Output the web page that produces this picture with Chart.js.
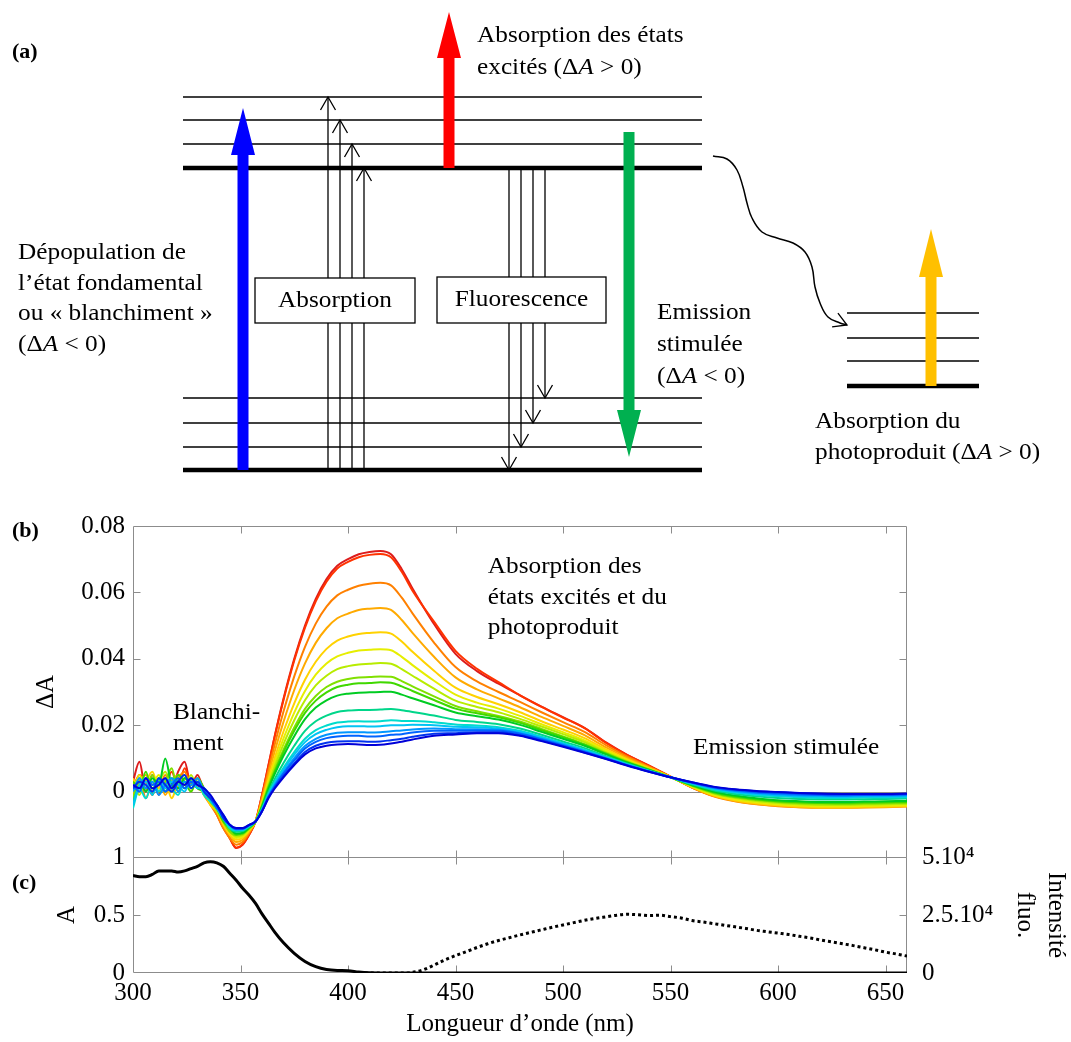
<!DOCTYPE html>
<html lang="fr">
<head>
<meta charset="utf-8">
<title>Absorption transitoire</title>
<script src="https://cdn.jsdelivr.net/npm/chart.js@4.4.1/dist/chart.umd.min.js"></script>
<style>
  html, body { margin:0; padding:0; background:#fff; }
  #page { position:relative; width:1071px; height:1042px; overflow:hidden; background:#fff; }
  #page canvas { position:absolute; left:0; }
  .panel { position:absolute; left:12px; font: bold 22px 'Liberation Serif', 'Times New Roman', serif; line-height:22px; color:#000; }
</style>
</head>
<body>
<div id="page">
  <canvas id="diagram" width="1071" height="490" style="top:0"></canvas>
  <canvas id="transient" width="1071" height="362" style="top:500px"></canvas>
  <canvas id="steady" width="1071" height="222" style="top:820px"></canvas>
  <div class="panel" style="top:40px">(a)</div>
  <div class="panel" style="top:519px">(b)</div>
  <div class="panel" style="top:871px">(c)</div>
</div>
<script>
// ===================== (a) energy diagram data (x: arbitrary units, E: energy units) =====================
const levelsGround  = [0, 23, 47, 72];
const levelsExcited = [302, 326, 350, 373];
const levelsProduct = [84, 109, 132, 157];
const spanMain    = [183, 702];
const spanProduct = [847, 979];

const absorptionArrowX   = [328, 340, 352, 364];
const absorptionArrowTop = [373, 350, 326, 302];
const fluorescenceArrowX   = [509, 521, 533, 545];
const fluorescenceArrowEnd = [0, 23, 47, 72];

const bigArrowX        = [243, 449, 629, 931];
const bigArrowFrom     = [0, 302, 338, 84];
const bigArrowTip      = [362, 458, 13, 241];
const bigArrowHeadBase = [315, 412, 60, 193];
const bigArrowColor    = ['#0000ff', '#ff0000', '#00b050', '#ffc000'];

const relaxPathX = [713, 727, 737, 743, 747, 752, 762, 777, 793, 805, 812, 815, 820, 828, 840, 847];
const relaxPathE = [314, 311, 300, 283, 267, 252, 238, 232, 227, 218, 203, 183, 167, 153, 147, 145];

// ===================== (b) transient spectra (ΔA) =====================
const wavelengthsB = [300,303,306,309,312,315,318,321,324,327,330,333,336,339,342,345,
  348,351,354,357,360,363,366,
  370,375,380,385,390,395,400,405,410,415,420,425,430,
  440,450,460,470,480,490,500,510,520,530,540,550,
  560,570,580,590,600,610,620,630,640,650,660];

const dA01 = [0.003,0.009,0.000,0.005,-0.001,0.004,0.001,0.006,0.009,0.002,0.005,0.000,-0.003,-0.006,-0.010,-0.014,
  -0.017,-0.016,-0.013,-0.009,-0.001,0.008,0.017,
  0.028,0.040,0.050,0.058,0.064,0.068,0.070,0.0715,0.0722,0.0725,0.0715,0.067,0.0612,
  0.0505,0.0415,0.0363,0.0325,0.029,0.0256,0.0224,0.0192,0.0148,0.011,0.0078,0.0045,
  0.0013,-0.0012,-0.0026,-0.0034,-0.0040,-0.0044,-0.0046,-0.0046,-0.0045,-0.0044,-0.0042];
const dA02 = [0.001,0.005,0.003,-0.001,0.004,0.002,0.006,0.001,0.007,0.003,0.004,0.001,-0.003,-0.007,-0.011,-0.014,
  -0.0169,-0.0159,-0.0130,-0.0090,-0.0011,0.0078,0.0168,
  0.0276,0.0395,0.0494,0.0573,0.0632,0.0672,0.0692,0.0706,0.0713,0.0716,0.0706,0.0662,0.0605,
  0.0512,0.0424,0.0370,0.0330,0.0290,0.0255,0.0223,0.0191,0.0147,0.0110,0.0078,0.0045,
  0.0012,-0.0013,-0.0027,-0.0035,-0.0041,-0.0044,-0.0045,-0.0045,-0.0044,-0.0043,-0.0041];
const dA03 = [0.002,0.004,-0.002,0.003,0.001,0.005,0.000,0.004,0.006,0.001,0.003,-0.001,-0.004,-0.007,-0.011,-0.014,
  -0.0160,-0.0152,-0.0125,-0.0090,-0.0018,0.0064,0.0144,
  0.0241,0.0347,0.0436,0.0506,0.0557,0.0591,0.0608,0.0620,0.0626,0.0629,0.0621,0.0584,0.0537,
  0.0449,0.0375,0.0332,0.0300,0.0270,0.0239,0.0209,0.0180,0.0140,0.0105,0.0075,0.0045,
  0.0012,-0.0014,-0.0029,-0.0038,-0.0044,-0.0047,-0.0048,-0.0048,-0.0047,-0.0046,-0.0044];
const dA04 = [-0.001,0.003,0.005,0.000,0.004,-0.001,0.003,0.005,0.002,0.004,0.001,0.000,-0.003,-0.006,-0.010,-0.013,
  -0.0152,-0.0145,-0.0121,-0.0090,-0.0025,0.0051,0.0123,
  0.0210,0.0306,0.0386,0.0448,0.0492,0.0522,0.0536,0.0547,0.0551,0.0553,0.0547,0.0517,0.0478,
  0.0406,0.0344,0.0308,0.0281,0.0254,0.0225,0.0198,0.0170,0.0133,0.0101,0.0073,0.0044,
  0.0013,-0.0013,-0.0028,-0.0037,-0.0043,-0.0047,-0.0049,-0.0049,-0.0048,-0.0047,-0.0045];
const dA05 = [0.004,0.000,0.003,0.006,0.001,0.003,-0.002,0.003,0.005,0.000,0.004,0.000,-0.004,-0.006,-0.010,-0.013,
  -0.0145,-0.0139,-0.0117,-0.0090,-0.0031,0.0038,0.0103,
  0.0181,0.0266,0.0337,0.0391,0.0430,0.0455,0.0467,0.0475,0.0478,0.0480,0.0476,0.0452,0.0421,
  0.0364,0.0313,0.0285,0.0263,0.0239,0.0212,0.0187,0.0161,0.0127,0.0097,0.0070,0.0044,
  0.0014,-0.0011,-0.0026,-0.0035,-0.0041,-0.0045,-0.0047,-0.0047,-0.0046,-0.0045,-0.0043];
const dA06 = [0.000,0.005,0.001,0.002,0.005,0.000,0.004,0.002,0.004,0.003,0.002,-0.001,-0.003,-0.006,-0.009,-0.012,
  -0.0140,-0.0135,-0.0115,-0.0090,-0.0035,0.0029,0.0089,
  0.0160,0.0238,0.0303,0.0352,0.0386,0.0407,0.0418,0.0425,0.0427,0.0429,0.0426,0.0406,0.0381,
  0.0334,0.0292,0.0268,0.0250,0.0228,0.0203,0.0179,0.0154,0.0123,0.0094,0.0069,0.0044,
  0.0015,-0.0009,-0.0023,-0.0032,-0.0038,-0.0042,-0.0044,-0.0044,-0.0043,-0.0042,-0.0041];
const dA07 = [0.002,-0.001,0.004,0.001,0.003,0.006,0.001,0.004,0.001,0.005,0.001,0.001,-0.003,-0.006,-0.009,-0.012,
  -0.0135,-0.0131,-0.0113,-0.0090,-0.0039,0.0022,0.0077,
  0.0143,0.0215,0.0275,0.0320,0.0349,0.0369,0.0378,0.0383,0.0385,0.0387,0.0385,0.0369,0.0349,
  0.0310,0.0274,0.0255,0.0239,0.0219,0.0196,0.0173,0.0149,0.0119,0.0092,0.0068,0.0043,
  0.0017,-0.0006,-0.0019,-0.0028,-0.0034,-0.0038,-0.0040,-0.0040,-0.0039,-0.0038,-0.0037];
const dA08 = [-0.002,0.004,0.001,0.005,0.000,0.003,0.007,0.000,0.004,0.002,0.003,0.000,-0.002,-0.005,-0.009,-0.012,
  -0.0131,-0.0128,-0.0111,-0.0090,-0.0042,0.0015,0.0066,
  0.0126,0.0193,0.0249,0.0288,0.0315,0.0331,0.0339,0.0344,0.0345,0.0347,0.0346,0.0333,0.0317,
  0.0287,0.0258,0.0242,0.0228,0.0211,0.0189,0.0166,0.0143,0.0116,0.0089,0.0066,0.0043,
  0.0018,-0.0004,-0.0017,-0.0025,-0.0031,-0.0035,-0.0036,-0.0037,-0.0036,-0.0035,-0.0034];
const dA09 = [0.003,0.001,0.006,-0.001,0.004,0.002,0.001,0.005,0.003,0.000,0.004,0.001,-0.003,-0.005,-0.009,-0.011,
  -0.0129,-0.0126,-0.0110,-0.0090,-0.0044,0.0012,0.0061,
  0.0119,0.0183,0.0237,0.0274,0.0299,0.0315,0.0322,0.0326,0.0327,0.0329,0.0328,0.0317,0.0303,
  0.0276,0.0250,0.0236,0.0224,0.0207,0.0185,0.0164,0.0141,0.0114,0.0088,0.0066,0.0043,
  0.0019,-0.0002,-0.0015,-0.0023,-0.0029,-0.0032,-0.0034,-0.0034,-0.0033,-0.0032,-0.0031];
const dA10 = [0.001,0.003,0.000,0.004,0.002,0.010,0.002,0.001,0.004,0.003,0.001,0.000,-0.002,-0.005,-0.008,-0.011,
  -0.0126,-0.0124,-0.0108,-0.0090,-0.0046,0.0007,0.0054,
  0.0108,0.0167,0.0218,0.0253,0.0275,0.0289,0.0295,0.0298,0.0299,0.0300,0.0301,0.0292,0.0281,
  0.0260,0.0238,0.0227,0.0217,0.0201,0.0180,0.0159,0.0138,0.0112,0.0087,0.0065,0.0043,
  0.0020,0.0000,-0.0012,-0.0020,-0.0026,-0.0029,-0.0031,-0.0031,-0.0030,-0.0029,-0.0028];
const dA11 = [-0.003,0.002,0.004,0.001,0.003,0.000,0.004,0.003,0.001,0.004,0.002,0.001,-0.002,-0.005,-0.008,-0.011,
  -0.0121,-0.0119,-0.0106,-0.0090,-0.0051,-0.0002,0.0039,
  0.0086,0.0138,0.0183,0.0212,0.0229,0.0240,0.0244,0.0246,0.0246,0.0247,0.0249,0.0245,0.0240,
  0.0229,0.0216,0.0210,0.0203,0.0190,0.0171,0.0151,0.0131,0.0107,0.0084,0.0063,0.0043,
  0.0022,0.0004,-0.0007,-0.0014,-0.0019,-0.0022,-0.0024,-0.0024,-0.0023,-0.0022,-0.0021];
const dA12 = [-0.005,0.001,-0.002,0.003,0.000,0.004,0.001,-0.001,0.003,0.001,0.003,-0.001,-0.003,-0.005,-0.008,-0.011,
  -0.0117,-0.0116,-0.0104,-0.0090,-0.0054,-0.0008,0.0030,
  0.0072,0.0119,0.0159,0.0185,0.0199,0.0208,0.0211,0.0212,0.0211,0.0212,0.0215,0.0213,0.0213,
  0.0209,0.0202,0.0199,0.0194,0.0183,0.0165,0.0146,0.0126,0.0104,0.0082,0.0062,0.0043,
  0.0024,0.0007,-0.0003,-0.0010,-0.0014,-0.0017,-0.0019,-0.0019,-0.0018,-0.0018,-0.0017];
const dA13 = [-0.004,0.002,0.003,-0.001,0.004,0.001,0.003,0.002,0.000,0.004,0.001,0.001,-0.002,-0.005,-0.008,-0.010,
  -0.0116,-0.0115,-0.0103,-0.0090,-0.0055,-0.0010,0.0025,
  0.0066,0.0111,0.0149,0.0173,0.0186,0.0194,0.0197,0.0197,0.0196,0.0197,0.0200,0.0200,0.0201,
  0.0200,0.0195,0.0194,0.0190,0.0180,0.0162,0.0144,0.0124,0.0103,0.0081,0.0062,0.0043,
  0.0025,0.0009,-0.0001,-0.0007,-0.0011,-0.0014,-0.0015,-0.0016,-0.0015,-0.0015,-0.0014];
const dA14 = [0.000,0.004,0.001,0.003,-0.001,0.002,0.004,0.000,0.003,0.002,0.004,0.000,-0.002,-0.004,-0.008,-0.010,
  -0.0114,-0.0113,-0.0102,-0.0090,-0.0057,-0.0014,0.0020,
  0.0058,0.0101,0.0137,0.0159,0.0171,0.0177,0.0179,0.0179,0.0178,0.0179,0.0182,0.0184,0.0187,
  0.0190,0.0188,0.0188,0.0186,0.0176,0.0159,0.0141,0.0122,0.0101,0.0080,0.0061,0.0043,
  0.0026,0.0011,0.0002,-0.0004,-0.0008,-0.0011,-0.0012,-0.0013,-0.0012,-0.0012,-0.0011];
const dA15 = [0.002,0.000,0.004,0.002,0.003,0.000,0.002,0.004,0.001,0.003,0.002,0.001,-0.002,-0.005,-0.007,-0.010,
  -0.0113,-0.0112,-0.0101,-0.0090,-0.0058,-0.0016,0.0017,
  0.0054,0.0094,0.0130,0.0150,0.0161,0.0166,0.0168,0.0168,0.0166,0.0167,0.0171,0.0173,0.0178,
  0.0183,0.0183,0.0184,0.0183,0.0174,0.0157,0.0139,0.0120,0.0100,0.0079,0.0061,0.0043,
  0.0027,0.0013,0.0004,-0.0002,-0.0005,-0.0008,-0.0010,-0.0011,-0.0010,-0.0010,-0.0009];
const dA16 = [0.001,0.003,0.002,0.000,0.004,0.002,0.000,0.003,0.005,0.001,0.003,0.000,-0.002,-0.004,-0.008,-0.010,
  -0.0111,-0.0111,-0.0101,-0.0090,-0.0059,-0.0018,0.0013,
  0.0047,0.0085,0.0119,0.0138,0.0147,0.0151,0.0152,0.0152,0.0150,0.0151,0.0155,0.0159,0.0165,
  0.0174,0.0176,0.0179,0.0179,0.0170,0.0154,0.0137,0.0118,0.0099,0.0079,0.0060,0.0043,
  0.0028,0.0014,0.0006,0.0001,-0.0002,-0.0005,-0.0007,-0.0008,-0.0008,-0.0008,-0.0007];
const dA17 = [0.002,0.001,0.004,0.001,0.002,0.004,0.001,0.003,0.002,0.004,0.002,0.001,-0.001,-0.004,-0.007,-0.010,
  -0.0110,-0.0110,-0.0100,-0.0090,-0.0060,-0.0020,0.0010,
  0.0043,0.0080,0.0112,0.0130,0.0138,0.0142,0.0143,0.0142,0.0140,0.0141,0.0145,0.0150,0.0157,
  0.0168,0.0172,0.0176,0.0176,0.0168,0.0152,0.0135,0.0117,0.0098,0.0078,0.0060,0.0043,
  0.0028,0.0015,0.0007,0.0002,-0.0001,-0.0004,-0.0006,-0.0007,-0.0007,-0.0007,-0.0006];

const spectraColors = ['#dd1c1c','#ff3300','#ff8000','#ffaa00','#ffd200','#e6ee00','#b8ec00','#80e000','#40d800',
  '#00cc22','#00d68a','#00dccc','#00c4f4','#0096ff','#0064ff','#0032f0','#0000d8'];

const dATicks = [-0.02, 0, 0.02, 0.04, 0.06, 0.08];
const wavelengthTicks = [300, 350, 400, 450, 500, 550, 600, 650];

// ===================== (c) steady-state spectra =====================
const absWavelengths = [300,303,306,309,312,315,318,321,324,327,330,333,336,339,342,345,348,351,354,357,360,363,366,
  370,375,380,385,390,395,400,405,410,420,440,460,480,500,520,540,560,580,600,620,640,660];
const absorbance = [0.84,0.83,0.83,0.85,0.88,0.88,0.88,0.87,0.88,0.90,0.92,0.95,0.96,0.95,0.92,0.86,0.80,0.73,0.67,0.60,0.51,0.43,0.35,
  0.26,0.17,0.10,0.055,0.03,0.022,0.02,0.008,0.002,0,0,0,0,0,0,0,0,0,0,0,0,0];

const fluoWavelengths = [405,410,415,420,425,430,435,440,445,450,455,460,465,470,475,480,485,490,495,500,505,510,515,520,525,
  530,535,540,545,550,555,560,565,570,575,580,585,590,595,600,605,610,615,620,625,630,635,640,645,650,655,660];
const fluoIntensity = [0,0,0,0,0,300,1400,3400,5600,7500,9200,11000,12600,14000,15200,16400,17500,18600,19700,20700,21700,22700,23500,24200,24900,
  25300,25100,24800,24900,24300,23700,22600,22000,21300,20600,19900,19200,18400,17800,17200,16600,15800,15100,14200,13400,12600,11800,10900,10000,9000,8200,7300];

const absTicks = [0, 0.5, 1];
const fluoTicks = [0, 25000, 50000];

// ===================== helpers =====================
const SERIF = "'Liberation Serif', 'Times New Roman', serif";
Chart.defaults.font.family = SERIF;
Chart.defaults.font.size = 25;
Chart.defaults.color = '#000';
Chart.defaults.animation = false;

function noOverhang(s) { s.paddingTop = 0; s.paddingBottom = 0; s.paddingLeft = 0; s.paddingRight = 0; }

const TXT_SIZE = 23, TXT_STRETCH = 1.1;
function drawRuns(ctx, runs, x, y, align) {
  ctx.save();
  ctx.translate(x, y);
  ctx.scale(TXT_STRETCH, 1);
  ctx.textBaseline = 'middle';
  ctx.textAlign = 'left';
  ctx.fillStyle = '#000';
  const widths = [];
  let total = 0;
  runs.forEach(([t, it]) => {
    ctx.font = (it ? 'italic ' : '') + TXT_SIZE + 'px ' + SERIF;
    const w = ctx.measureText(t).width; widths.push(w); total += w;
  });
  let cx = align === 'center' ? -total / 2 : 0;
  runs.forEach(([t, it], i) => {
    ctx.font = (it ? 'italic ' : '') + TXT_SIZE + 'px ' + SERIF;
    ctx.fillText(t, cx, 0); cx += widths[i];
  });
  ctx.restore();
}
function makeTextPlugin(items, xId, yId) {
  return {
    id: 'texts',
    afterDatasetsDraw(chart) {
      const xs = chart.scales[xId], ys = chart.scales[yId];
      items.forEach(it => {
        it.lines.forEach((ln, k) => {
          const runs = typeof ln === 'string' ? [[ln, 0]] : ln;
          drawRuns(chart.ctx, runs, xs.getPixelForValue(it.x), ys.getPixelForValue(it.y) + k * (it.lh || 0), it.align || 'left');
        });
      });
    }
  };
}
function makeFramePlugin(cfg) {
  return {
    id: 'frame',
    beforeDatasetsDraw(chart) {
      const {ctx, chartArea: a} = chart;
      const xs = chart.scales.x;
      const L = Math.round(a.left) + 0.5, R = Math.round(a.right) - 0.5;
      const T = Math.round(a.top) + 0.5, B = Math.round(a.bottom) - 0.5;
      const len = 7;
      ctx.save();
      ctx.strokeStyle = '#8c8c8c';
      ctx.lineWidth = 1;
      ctx.beginPath();
      ctx.moveTo(L, B); ctx.lineTo(L, T); ctx.lineTo(R, T); ctx.lineTo(R, B); ctx.lineTo(L, B);
      if (cfg.zeroScale) {
        const y0 = Math.round(chart.scales[cfg.zeroScale].getPixelForValue(0)) + 0.5;
        ctx.moveTo(L, y0); ctx.lineTo(R, y0);
      }
      cfg.xTicks.forEach(v => {
        const p = Math.round(xs.getPixelForValue(v)) + 0.5;
        if (p <= L + 1 || p >= R - 1) return;
        ctx.moveTo(p, T); ctx.lineTo(p, T + len);
        ctx.moveTo(p, B); ctx.lineTo(p, B - len);
      });
      cfg.leftTicks.forEach(v => {
        const p = Math.round(chart.scales[cfg.leftScale].getPixelForValue(v)) + 0.5;
        if (p <= T + 1 || p >= B - 1) return;
        ctx.moveTo(L, p); ctx.lineTo(L + len, p);
      });
      cfg.rightTicks.forEach(v => {
        const p = Math.round(chart.scales[cfg.rightScale].getPixelForValue(v)) + 0.5;
        if (p <= T + 1 || p >= B - 1) return;
        ctx.moveTo(R, p); ctx.lineTo(R - len, p);
      });
      ctx.stroke();
      ctx.restore();
    }
  };
}

// ===================== (a) diagram chart =====================
const diagramDatasets = [];
function addLevels(levels, span) {
  levels.forEach((e, i) => diagramDatasets.push({
    data: [{x: span[0], y: e}, {x: span[1], y: e}],
    borderColor: '#000', borderWidth: i === 0 ? 4.5 : 1.3, pointRadius: 0
  }));
}
addLevels(levelsGround, spanMain);
addLevels(levelsExcited, spanMain);
addLevels(levelsProduct, spanProduct);
absorptionArrowX.forEach((x, i) => diagramDatasets.push({
  data: [{x, y: levelsGround[0]}, {x, y: absorptionArrowTop[i]}], borderColor: '#000', borderWidth: 1.3, pointRadius: 0
}));
fluorescenceArrowX.forEach((x, i) => diagramDatasets.push({
  data: [{x, y: levelsExcited[0]}, {x, y: fluorescenceArrowEnd[i]}], borderColor: '#000', borderWidth: 1.3, pointRadius: 0
}));
diagramDatasets.push({
  data: relaxPathX.map((x, i) => ({x, y: relaxPathE[i]})),
  borderColor: '#000', borderWidth: 1.5, pointRadius: 0, tension: 0.4
});

const diagramBoxes = [
  {label: 'Absorption', x: [255, 415], e: [147, 192]},
  {label: 'Fluorescence', x: [437, 606], e: [147, 193]}
];
const diagramTexts = [
  {lines: ['Absorption des états', [['excités (Δ', 0], ['A', 1], [' > 0)', 0]]], x: 477, y: 434, lh: 32},
  {lines: ['Dépopulation de', 'l’état fondamental', 'ou « blanchiment »', [['(Δ', 0], ['A', 1], [' < 0)', 0]]], x: 18, y: 217, lh: 30.5},
  {lines: ['Emission', 'stimulée', [['(Δ', 0], ['A', 1], [' < 0)', 0]]], x: 657, y: 157, lh: 32},
  {lines: ['Absorption du', [['photoproduit (Δ', 0], ['A', 1], [' > 0)', 0]]], x: 815, y: 48, lh: 31}
];

function chevron(ctx, tx, ty, dx, dy) {
  const L = Math.hypot(dx, dy), ux = dx / L, uy = dy / L;
  const len = 13, half = 7.5;
  const bx = tx - ux * len, by = ty - uy * len, px = -uy, py = ux;
  ctx.beginPath();
  ctx.moveTo(bx + px * half, by + py * half);
  ctx.lineTo(tx, ty);
  ctx.lineTo(bx - px * half, by - py * half);
  ctx.stroke();
}
function blockArrow(ctx, x, yFrom, yTip, yBase, color) {
  const sw = 5.5, hw = 12;
  ctx.fillStyle = color;
  ctx.beginPath();
  ctx.moveTo(x - sw, yFrom); ctx.lineTo(x - sw, yBase); ctx.lineTo(x - hw, yBase);
  ctx.lineTo(x, yTip);
  ctx.lineTo(x + hw, yBase); ctx.lineTo(x + sw, yBase); ctx.lineTo(x + sw, yFrom);
  ctx.closePath();
  ctx.fill();
}
const diagramPlugin = {
  id: 'diagramDecor',
  afterDatasetsDraw(chart) {
    const {ctx} = chart;
    const X = v => chart.scales.x.getPixelForValue(v);
    const Y = v => chart.scales.y.getPixelForValue(v);
    ctx.save();
    ctx.strokeStyle = '#000';
    ctx.lineWidth = 1.3;
    absorptionArrowX.forEach((x, i) => chevron(ctx, X(x), Y(absorptionArrowTop[i]), 0, -1));
    fluorescenceArrowX.forEach((x, i) => chevron(ctx, X(x), Y(fluorescenceArrowEnd[i]), 0, 1));
    const n = relaxPathX.length;
    chevron(ctx, X(relaxPathX[n - 1]), Y(relaxPathE[n - 1]),
      X(relaxPathX[n - 1]) - X(relaxPathX[n - 3]), Y(relaxPathE[n - 1]) - Y(relaxPathE[n - 3]));
    diagramBoxes.forEach(b => {
      const x0 = X(b.x[0]), x1 = X(b.x[1]), y0 = Y(b.e[1]), y1 = Y(b.e[0]);
      ctx.fillStyle = '#fff';
      ctx.fillRect(x0, y0, x1 - x0, y1 - y0);
      ctx.lineWidth = 1.3;
      ctx.strokeRect(x0, y0, x1 - x0, y1 - y0);
      drawRuns(ctx, [[b.label, 0]], (x0 + x1) / 2, (y0 + y1) / 2, 'center');
    });
    bigArrowX.forEach((x, i) => blockArrow(ctx, X(x), Y(bigArrowFrom[i]), Y(bigArrowTip[i]), Y(bigArrowHeadBase[i]), bigArrowColor[i]));
    ctx.restore();
  }
};

new Chart(document.getElementById('diagram'), {
  type: 'line',
  data: {datasets: diagramDatasets},
  options: {
    responsive: false, animation: false, events: [],
    layout: {padding: 0},
    scales: {
      x: {type: 'linear', min: 0, max: 1071, display: false},
      y: {type: 'linear', min: -20, max: 470, display: false}
    },
    plugins: {legend: {display: false}, tooltip: {enabled: false}}
  },
  plugins: [diagramPlugin, makeTextPlugin(diagramTexts, 'x', 'y')]
});

// ===================== (b) transient absorption chart =====================
const spectra = [dA01, dA02, dA03, dA04, dA05, dA06, dA07, dA08, dA09, dA10, dA11, dA12, dA13, dA14, dA15, dA16, dA17];
const transientTexts = [
  {lines: ['Blanchi-', 'ment'], x: 318.6, y: 0.0238, lh: 31},
  {lines: ['Absorption des', 'états excités et du', 'photoproduit'], x: 465, y: 0.0676, lh: 30.5},
  {lines: ['Emission stimulée'], x: 560.5, y: 0.0132}
];

new Chart(document.getElementById('transient'), {
  type: 'line',
  data: {
    datasets: spectra.map((arr, i) => ({
      data: arr.map((v, k) => ({x: wavelengthsB[k], y: v})),
      borderColor: spectraColors[i], borderWidth: 2, pointRadius: 0,
      cubicInterpolationMode: 'monotone', order: spectra.length - i
    }))
  },
  options: {
    responsive: false, animation: false, events: [],
    layout: {padding: {left: 0, right: 164, top: 26, bottom: 4}},
    scales: {
      x: {type: 'linear', min: 300, max: 660, display: false, afterFit: noOverhang},
      y: {
        type: 'linear', position: 'left', min: dATicks[0], max: dATicks[dATicks.length - 1],
        grid: {display: false, drawTicks: false}, border: {display: false},
        ticks: {stepSize: 0.02, padding: 8, callback: v => Math.abs(v) < 1e-9 ? '0' : (v < 0 ? '' : v.toFixed(2))},
        title: {display: true, text: 'ΔA', padding: {top: 31, bottom: 0}},
        afterFit(s) { s.width = 133; noOverhang(s); }
      }
    },
    plugins: {legend: {display: false}, tooltip: {enabled: false}}
  },
  plugins: [
    makeFramePlugin({zeroScale: 'y', xTicks: wavelengthTicks, leftScale: 'y', rightScale: 'y', leftTicks: dATicks, rightTicks: dATicks}),
    makeTextPlugin(transientTexts, 'x', 'y')
  ]
});

// ===================== (c) steady-state chart =====================
new Chart(document.getElementById('steady'), {
  type: 'line',
  data: {
    datasets: [
      {
        label: 'A', yAxisID: 'yA',
        data: absWavelengths.map((w, i) => ({x: w, y: absorbance[i]})),
        borderColor: '#000', borderWidth: 3, pointRadius: 0, cubicInterpolationMode: 'monotone'
      },
      {
        label: 'Intensité fluo.', yAxisID: 'yF',
        data: fluoWavelengths.map((w, i) => ({x: w, y: fluoIntensity[i]})),
        borderColor: '#000', borderWidth: 3, borderDash: [3, 3], pointRadius: 0, cubicInterpolationMode: 'monotone'
      }
    ]
  },
  options: {
    responsive: false, animation: false, events: [],
    layout: {padding: {left: 0, right: 0, top: 37, bottom: 0}},
    scales: {
      x: {
        type: 'linear', position: 'bottom', min: 300, max: 660,
        grid: {display: false, drawTicks: false}, border: {display: false},
        ticks: {stepSize: 50, includeBounds: false, padding: 5, maxRotation: 0, autoSkip: false},
        title: {display: true, text: 'Longueur d’onde (nm)', padding: {top: 0, bottom: 3}},
        afterFit(s) { s.height = 69; noOverhang(s); }
      },
      yA: {
        type: 'linear', position: 'left', min: absTicks[0], max: absTicks[absTicks.length - 1],
        grid: {display: false, drawTicks: false}, border: {display: false},
        ticks: {stepSize: 0.5, padding: 8, callback: v => String(v)},
        title: {display: true, text: 'A', padding: {top: 52, bottom: 0}},
        afterFit(s) { s.width = 133; noOverhang(s); }
      },
      yF: {
        type: 'linear', position: 'right', min: fluoTicks[0], max: fluoTicks[fluoTicks.length - 1],
        grid: {display: false, drawTicks: false}, border: {display: false},
        ticks: {stepSize: 25000, padding: 15, callback: v => v === 0 ? '0' : (v / 1e4) + '.10⁴'},
        title: {display: true, text: ['Intensité', 'fluo.'], padding: {top: 0, bottom: 0}, font: {size: 25, lineHeight: 1.25}},
        afterFit(s) { s.width = 164; noOverhang(s); }
      }
    },
    plugins: {legend: {display: false}, tooltip: {enabled: false}}
  },
  plugins: [
    makeFramePlugin({zeroScale: null, xTicks: wavelengthTicks, leftScale: 'yA', rightScale: 'yF', leftTicks: absTicks, rightTicks: fluoTicks})
  ]
});
</script>
</body>
</html>
